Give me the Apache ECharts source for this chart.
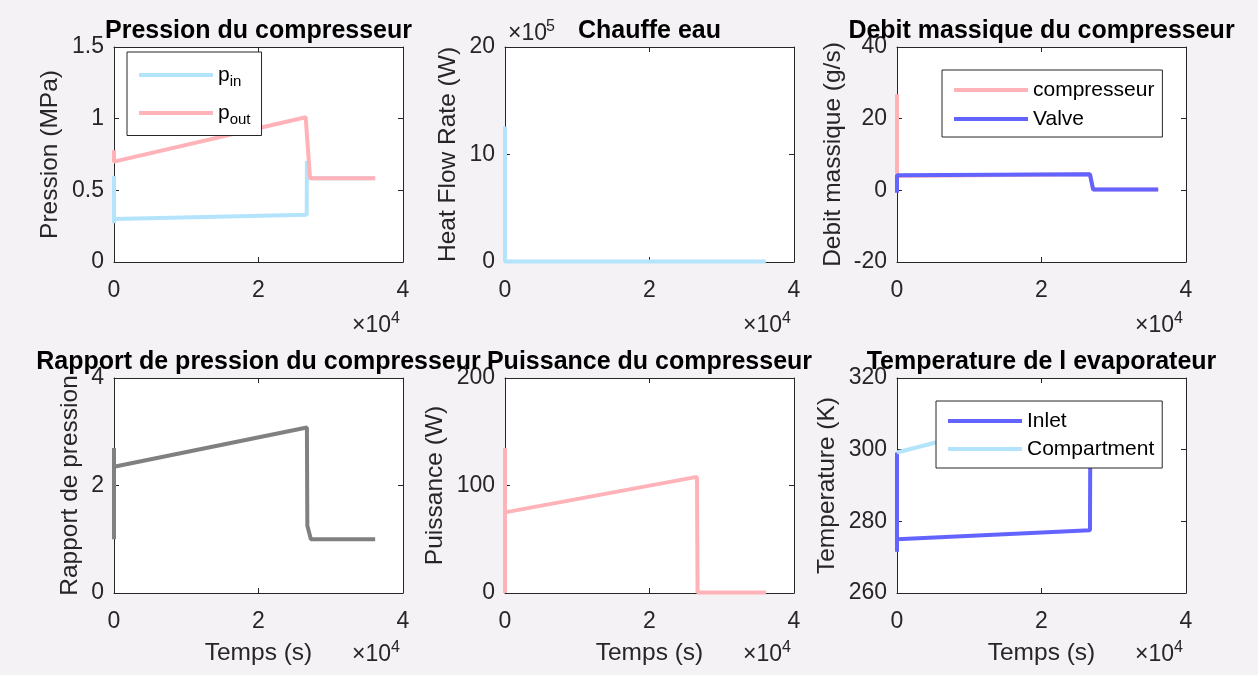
<!DOCTYPE html>
<html>
<head>
<meta charset="utf-8">
<script src="https://cdn.jsdelivr.net/npm/echarts@6/dist/echarts.min.js"></script>
<style>
html, body { margin: 0; padding: 0; background: #f5f2f5; }
#chart { width: 1258px; height: 675px; }
</style>
</head>
<body>
<div id="chart"></div>
<script>
// temps (s) et valeurs
var pinT = [0, 0, 0, 26670, 26700, 27000, 27130, 36150];
var pinV = [0.60, 0.27, 0.30, 0.33, 0.705, 0.60, 0.585, 0.585];
var poutT = [0, 0, 26530, 27130, 36150];
var poutV = [0.78, 0.70, 1.01, 0.585, 0.585];

var heatT = [0, 0, 36100];
var heatV = [1260000, 4000, 4000];

var compT = [0, 0, 26700, 27150, 36150];
var compV = [26.8, 4.0, 4.5, 0.2, 0.2];
var valveT = [0, 0, 26700, 27150, 36150];
var valveV = [-0.7, 4.2, 4.5, 0.2, 0.2];

var ratioT = [0, 0, 0, 26700, 26760, 27250, 36150];
var ratioV = [1.0, 2.7, 2.35, 3.08, 1.25, 1.0, 1.0];

var powT = [0, 0, 0, 26570, 26650, 36125];
var powV = [0, 135, 75, 108, 0.5, 0.5];

var inletT = [0, 0, 0, 26710, 26750, 36150];
var inletV = [299.2, 271.5, 275.0, 277.5, 300.5, 300.5];
var compartT = [0, 5350, 12000, 20000, 26700, 36150];
var compartV = [299.2, 302.0, 304.0, 305.5, 306.5, 304.0];

var FONT = 'Liberation Sans, Arial, sans-serif';
var INK = '#262626';
var PINK = '#ffb3b9';
var LBLUE = '#b3e4fc';
var BLUE = '#6363ff';
var GRAY = '#808080';

function pairs(t, v) {
  return t.map(function (x, i) { return [x, v[i]]; });
}

var panels = [
  { title: 'Pression du compresseur', left: 114, top: 47, yName: 'Pression (MPa)', yGap: 51.5, min: 0, max: 1.5, step: 0.5 },
  { title: 'Chauffe eau', left: 505, top: 47, yName: 'Heat Flow Rate (W)', yGap: 44.5, min: 0, max: 2000000, step: 1000000, scale: 1e5 },
  { title: 'Debit massique du compresseur', left: 897, top: 47, yName: 'Debit massique (g/s)', yGap: 51.5, min: -20, max: 40, step: 20 },
  { title: 'Rapport de pression du compresseur', left: 114, top: 378, yName: 'Rapport de pression', yGap: 31.5, min: 0, max: 4, step: 2, xName: 'Temps (s)' },
  { title: 'Puissance du compresseur', left: 505, top: 378, yName: 'Puissance (W)', yGap: 57.5, min: 0, max: 200, step: 100, xName: 'Temps (s)' },
  { title: 'Temperature de l evaporateur', left: 897, top: 378, yName: 'Temperature (K)', yGap: 57.5, min: 260, max: 320, step: 20, xName: 'Temps (s)' }
];
var W = 289, H = 215;

var grids = [], xAxes = [], yAxes = [], titles = [], graphics = [];

panels.forEach(function (p, i) {
  grids.push({
    left: p.left, top: p.top, width: W, height: H,
    show: true, backgroundColor: '#fff', borderWidth: 0,
    outerBoundsMode: 'none', containLabel: false
  });
  var line = { show: true, onZero: false, lineStyle: { color: INK, width: 1 } };
  var tick = { show: true, inside: true, length: 5, lineStyle: { color: INK } };
  xAxes.push({
    gridIndex: i, type: 'value', position: 'bottom', min: 0, max: 40000, interval: 20000,
    axisLine: line, axisTick: tick, splitLine: { show: false },
    axisLabel: { margin: 17, fontSize: 23, color: INK, fontFamily: FONT,
      formatter: function (v) { return String(v / 10000); } },
    name: p.xName || '', nameLocation: 'middle', nameGap: 48,
    nameTextStyle: { fontSize: 24.5, color: INK, fontFamily: FONT }
  });
  xAxes.push({
    gridIndex: i, type: 'value', position: 'top', min: 0, max: 40000, interval: 20000,
    axisLine: line, axisTick: tick, splitLine: { show: false }, axisLabel: { show: false }
  });
  yAxes.push({
    gridIndex: i, type: 'value', position: 'left', min: p.min, max: p.max, interval: p.step,
    axisLine: line, axisTick: tick, splitLine: { show: false },
    axisLabel: { margin: 10, fontSize: 23, color: INK, fontFamily: FONT, padding: [5, 0, 0, 0],
      formatter: function (v) { return String(p.scale ? v / p.scale : v); } },
    name: p.yName, nameLocation: 'middle', nameGap: p.yGap,
    nameTextStyle: { fontSize: 24.5, color: INK, fontFamily: FONT }
  });
  yAxes.push({
    gridIndex: i, type: 'value', position: 'right', min: p.min, max: p.max, interval: p.step,
    axisLine: line, axisTick: tick, splitLine: { show: false }, axisLabel: { show: false }
  });
  titles.push({
    text: p.title, left: p.left + W / 2, top: p.top - 28, textAlign: 'center', padding: 0,
    textStyle: { fontSize: 25, fontWeight: 'bold', color: '#000', fontFamily: FONT }
  });
  // exposant x10^4 sous l'axe des temps
  var ey = p.top + H + (p.xName ? 62 : 64);
  graphics.push({ type: 'text', x: p.left + W - 12, y: ey,
    style: { text: '\u00d710', font: '23px ' + FONT, fill: INK, align: 'right', verticalAlign: 'middle' } });
  graphics.push({ type: 'text', x: p.left + W - 12, y: ey - 7,
    style: { text: '4', font: '16px ' + FONT, fill: INK, align: 'left', verticalAlign: 'middle' } });
});

// exposant x10^5 du chauffe eau
graphics.push({ type: 'text', x: 508, y: 33.5,
  style: { text: '\u00d710', font: '23px ' + FONT, fill: INK, align: 'left', verticalAlign: 'middle' } });
graphics.push({ type: 'text', x: 546, y: 27,
  style: { text: '5', font: '16px ' + FONT, fill: INK, align: 'left', verticalAlign: 'middle' } });

function mk(name, idx, t, v, color) {
  return {
    name: name, type: 'line', xAxisIndex: idx * 2, yAxisIndex: idx * 2,
    data: pairs(t, v), showSymbol: false, symbol: 'none', color: color,
    lineStyle: { color: color, width: 4 }, animation: false
  };
}

var series = [
  mk('p_in', 0, pinT, pinV, LBLUE),
  mk('p_out', 0, poutT, poutV, PINK),
  mk('heat', 1, heatT, heatV, LBLUE),
  mk('compresseur', 2, compT, compV, PINK),
  mk('Valve', 2, valveT, valveV, BLUE),
  mk('ratio', 3, ratioT, ratioV, GRAY),
  mk('puissance', 4, powT, powV, PINK),
  mk('Inlet', 5, inletT, inletV, BLUE),
  mk('Compartment', 5, compartT, compartV, LBLUE)
];

var legendBase = {
  orient: 'vertical', icon: 'rect', itemWidth: 74, itemHeight: 4, itemTextGap: 5,
  backgroundColor: '#fff', borderColor: INK, borderWidth: 1, borderRadius: 0,
  selectedMode: false, textStyle: { fontSize: 21, color: '#000', fontFamily: FONT }
};

var legends = [
  Object.assign({}, legendBase, {
    data: ['p_in', 'p_out'], left: 127, top: 52, padding: [12.5, 11, 8, 12], itemGap: 13,
    formatter: function (n) { return '{m|p}{s|' + n.slice(2) + '}'; },
    textStyle: { fontSize: 21, color: '#000', fontFamily: FONT,
      rich: { m: { fontSize: 21, fontFamily: FONT }, s: { fontSize: 15, fontFamily: FONT, padding: [14, 0, 0, 0] } } }
  }),
  Object.assign({}, legendBase, {
    data: ['compresseur', 'Valve'], left: 942, top: 70, padding: [9.5, 8, 7.5, 12], itemGap: 8
  }),
  Object.assign({}, legendBase, {
    data: ['Inlet', 'Compartment'], left: 936, top: 401, padding: [9.5, 8, 8.5, 12], itemGap: 7
  })
];

var chart = echarts.init(document.getElementById('chart'));
chart.setOption({
  backgroundColor: '#f5f2f5',
  animation: false,
  title: titles,
  grid: grids,
  xAxis: xAxes,
  yAxis: yAxes,
  legend: legends,
  series: series,
  graphic: graphics
});
</script>
</body>
</html>
